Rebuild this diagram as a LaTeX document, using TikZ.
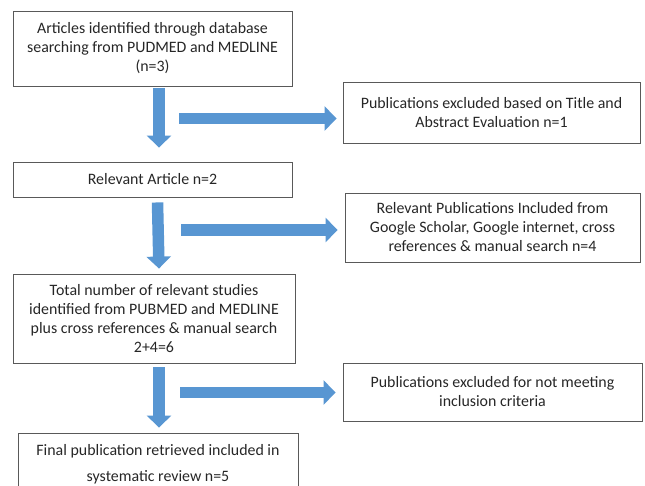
\documentclass[tikz,border=0pt]{standalone}
\usepackage{fontspec}
\setmainfont{Carlito}
\usetikzlibrary{arrows.meta}
\definecolor{flowblue}{RGB}{88,150,210}

\begin{document}
\begin{tikzpicture}[x=1pt, y=-1pt,
  rectnode/.style={rectangle, draw=black!65, line width=0.9pt, align=center, inner sep=0pt, text=black!85, font=\fontsize{15.9}{19}\selectfont},
  blockarrow/.style={draw=flowblue, line width=11.5pt, -{Triangle[length=12pt, width=24pt]}},]
\useasboundingbox (0,0) rectangle (645,485);
\clip (0,0) rectangle (645,485);
% nodes
\node[rectnode, minimum width=279pt, minimum height=75pt] (identified) at (152.5,48.5) {Articles identified through database\\searching from PUDMED and MEDLINE\\(n=3)};
\node[rectnode, minimum width=297pt, minimum height=61pt] (excluded_title) at (491.5,112.5) {Publications excluded based on Title and\\Abstract Evaluation n=1};
\node[rectnode, minimum width=279pt, minimum height=35pt] (relevant) at (152.5,179.5) {Relevant Article n=2};
\node[rectnode, minimum width=295pt, minimum height=69pt] (included_extra) at (492.5,227.5) {Relevant Publications Included from\\Google Scholar, Google internet, cross\\references \& manual search n=4};
\node[rectnode, minimum width=282pt, minimum height=89pt] (total) at (154,318.5) {Total number of relevant studies\\identified from PUBMED and MEDLINE\\plus cross references \& manual search\\2+4=6};
\node[rectnode, minimum width=299pt, minimum height=58pt] (excluded_criteria) at (492.5,392) {Publications excluded for not meeting\\inclusion criteria};
\node[rectnode, minimum width=280pt, minimum height=62pt] (final) at (158,464) {Final publication retrieved included in\\[7pt]systematic review n=5};
\coordinate (split1) at (179,118.5);
\coordinate (split2) at (181,230);
\coordinate (split3) at (180,392.5);
% edges
\draw[blockarrow] ([xshift=6.5pt, yshift=-2pt]identified.south) -- ([xshift=6.5pt, yshift=14pt]relevant.north);
\draw[blockarrow] ([xshift=5pt, yshift=-5pt]relevant.south) -- ([xshift=5pt, yshift=5pt]total.north);
\draw[blockarrow] ([xshift=5pt, yshift=-4pt]total.south) -- ([xshift=1pt, yshift=5pt]final.north);
\draw[blockarrow] (split1) -- ([xshift=-6pt]split1 -| excluded_title.west);
\draw[blockarrow] (split2) -- ([xshift=-7pt]split2 -| included_extra.west);
\draw[blockarrow] (split3) -- ([xshift=-7pt]split3 -| excluded_criteria.west);
\end{tikzpicture}
\end{document}
